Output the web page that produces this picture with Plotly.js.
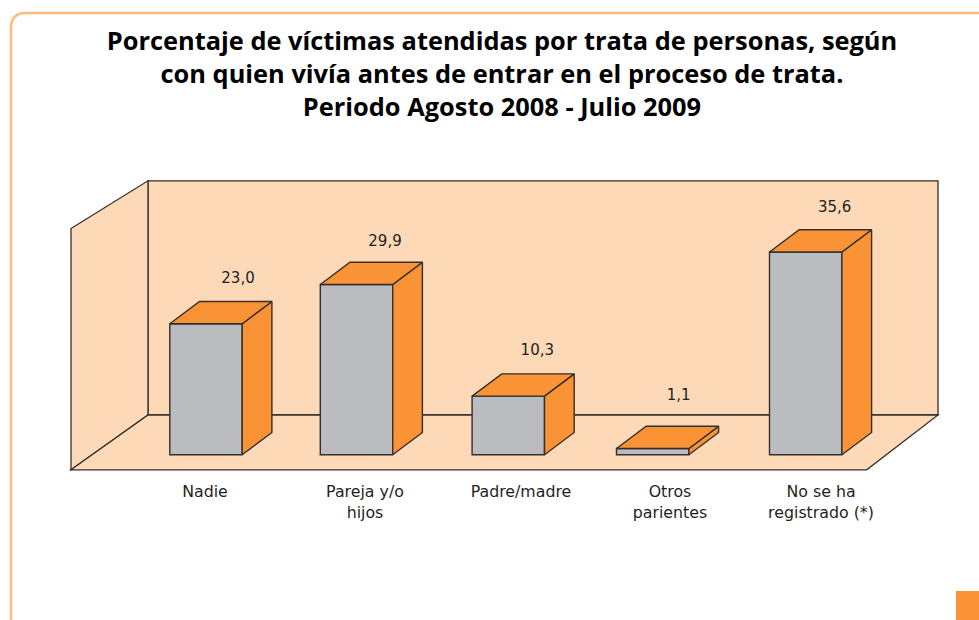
<!DOCTYPE html>
<html><head><meta charset="utf-8">
<script src="https://cdn.plot.ly/plotly-3.0.1.min.js"></script>
<style>html,body{margin:0;padding:0;background:#fff;overflow:hidden}#c{width:979px;height:620px}</style>
</head><body><div id="c"></div>
<script>
// ---- data ----
const categories = ["Nadie", "Pareja y/o<br>hijos", "Padre/madre", "Otros<br>parientes", "No se ha<br>registrado (*)"];
const values = [23.0, 29.9, 10.3, 1.1, 35.6];
const valueLabels = ["23,0", "29,9", "10,3", "1,1", "35,6"];

// ---- layout geometry (axis units; x axis runs 1:1 with page px) ----
const W = 979, H = 620, bottomPx = 475, zeroPx = 454.8, pxPerUnit = 5.696;
const barCentres = [206, 356.5, 508.3, 652.7, 805.7];
const tickCentres = [205, 365, 521, 670, 821];
const barWidth = 72.4, depthX = 29.7, depthY = 22.3 / pxPerUnit;
const labelDx = [32, 28.5, 29, 26, 29], labelDy = [45, 42, 45, 52, 44];
const py = p => (zeroPx - p) / pxPerUnit;
const px = x => x / W, pp = y => 1 - y / H;

const grey = "#BBBCBF", orange = "#F99335", wall = "#FDD9B8", ink = "#332F2C", frame = "#FDBB7D";

// pseudo-3D faces derived from the values
const sideX = [], sideY = [], topX = [], topY = [];
values.forEach((v, i) => {
  const l = barCentres[i] - barWidth / 2, r = barCentres[i] + barWidth / 2;
  sideX.push(r, r + depthX, r + depthX, r, r, null);
  sideY.push(0, depthY, v + depthY, v, 0, null);
  topX.push(l, l + depthX, r + depthX, r, l, null);
  topY.push(v, v + depthY, v + depthY, v, v, null);
});

const traces = [
  {type: "bar", x: barCentres, y: values, width: barWidth, base: 0,
   marker: {color: grey, line: {color: ink, width: 1.4}}, hoverinfo: "skip", showlegend: false},
  {type: "scatter", mode: "lines", x: sideX, y: sideY, fill: "toself", fillcolor: orange,
   line: {color: ink, width: 1.4}, hoverinfo: "skip", showlegend: false, cliponaxis: false},
  {type: "scatter", mode: "lines", x: topX, y: topY, fill: "toself", fillcolor: orange,
   line: {color: ink, width: 1.4}, hoverinfo: "skip", showlegend: false, cliponaxis: false},
  {type: "scatter", mode: "text",
   x: barCentres.map((c, i) => c + labelDx[i]),
   y: values.map((v, i) => v + labelDy[i] / pxPerUnit),
   text: valueLabels, textposition: "middle center",
   textfont: {family: "DejaVu Sans, sans-serif", size: 15, color: "#231F20"},
   hoverinfo: "skip", showlegend: false, cliponaxis: false}
];

const poly = (pts, extra) => Object.assign({
  type: "path", xref: "x", yref: "y", layer: "below",
  path: "M" + pts.map(p => p[0] + "," + py(p[1])).join("L") + "Z",
  fillcolor: wall, line: {color: ink, width: 1.3}
}, extra || {});

const shapes = [
  poly([[148, 180.8], [938, 180.8], [938, 415], [148, 415]]),
  poly([[71, 228.5], [148, 180.8], [148, 415], [71, 469.8]]),
  poly([[71, 469.8], [148, 415], [938, 415], [866.7, 469.8]]),
  {type: "path", xref: "paper", yref: "paper", layer: "below",
   path: `M${px(11)},${pp(620)}L${px(11)},${pp(28)}Q${px(11)},${pp(13)} ${px(26)},${pp(13)}L${px(979)},${pp(13)}`,
   line: {color: frame, width: 2.5}},
  {type: "rect", xref: "paper", yref: "paper", layer: "above",
   x0: px(956), x1: 1, y0: 0, y1: pp(591), fillcolor: orange, line: {width: 0}}
];

const layout = {
  width: W, height: H, margin: {l: 0, r: 0, t: 0, b: 0, pad: 0},
  paper_bgcolor: "#fff", plot_bgcolor: "rgba(0,0,0,0)", showlegend: false, barmode: "overlay",
  title: {
    text: "Porcentaje de víctimas atendidas por trata de personas, según<br>con quien vivía antes de entrar en el proceso de trata.<br>Periodo Agosto 2008 - Julio 2009",
    x: 502 / W, xanchor: "center", y: 1 - 50 / H, yanchor: "top",
    font: {family: "Open Sans, sans-serif", size: 25.4, color: "#000", weight: 700}
  },
  xaxis: {range: [0, W], domain: [0, 1], showgrid: false, zeroline: false, showline: false,
    tickmode: "array", tickvals: tickCentres, ticktext: categories,
    ticks: "outside", ticklen: 2, tickcolor: "rgba(0,0,0,0)", tickangle: 0,
    tickfont: {family: "DejaVu Sans, sans-serif", size: 15.8, color: "#231F20"}},
  yaxis: {range: [py(bottomPx), py(0)], domain: [1 - bottomPx / H, 1], showgrid: false, zeroline: false,
    showline: false, showticklabels: false, ticks: ""},
  shapes: shapes
};
Plotly.newPlot("c", traces, layout, {displayModeBar: false, staticPlot: true});
</script>
</body></html>
